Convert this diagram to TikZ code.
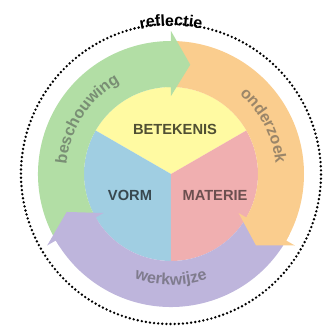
\documentclass[tikz,border=0pt]{standalone}
\usepackage{fontspec}
\setsansfont{Liberation Sans}
\usepackage{tikz}
\usepackage{xcolor}
\usetikzlibrary{decorations.text}

\definecolor{bandgreen}{RGB}{178,222,165}
\definecolor{bandorange}{RGB}{250,205,142}
\definecolor{bandpurple}{RGB}{190,181,220}
\definecolor{pieyellow}{RGB}{255,250,162}
\definecolor{pieblue}{RGB}{160,206,226}
\definecolor{piepink}{RGB}{240,175,176}
\colorlet{tgreen}{bandgreen!55!black!85}
\colorlet{torange}{bandorange!55!black!85}
\colorlet{tpurple}{bandpurple!55!black!85}

\tikzset{
    inlabel/.style={font=\sffamily\bfseries\fontsize{11}{13}\selectfont},
    dotline/.style={line width=2pt, dash pattern=on 0pt off 3.1pt, line cap=round}
}

\begin{document}
\begin{tikzpicture}[x=0.75pt, y=0.75pt]
    \useasboundingbox (-171,-155) rectangle (165,174);
    \fill[pieyellow] (0,0) -- (30:87) arc[start angle=30, end angle=150, radius=87] -- cycle;
    \fill[pieblue] (0,0) -- (150:87) arc[start angle=150, end angle=270, radius=87] -- cycle;
    \fill[piepink] (0,0) -- (270:87) arc[start angle=270, end angle=390, radius=87] -- cycle;
    \fill[bandgreen] (210:133) arc[start angle=210, end angle=90, radius=133] -- (90:87) arc[start angle=90, end angle=210, radius=87] -- cycle;
    \fill[bandorange] (90:133) arc[start angle=90, end angle=-30, radius=133] -- (-30:87) arc[start angle=-30, end angle=90, radius=87] -- cycle;
    \fill[bandpurple] (-30:133) arc[start angle=-30, end angle=-150, radius=133] -- (-150:87) arc[start angle=-150, end angle=-30, radius=87] -- cycle;
    \fill[bandgreen] (93:133) arc[start angle=93, end angle=90, radius=133] -- (90:143) -- (80:111) -- (90:78) -- (90:87) arc[start angle=90, end angle=93, radius=87] -- cycle;
    \fill[bandorange] (-27:133) arc[start angle=-27, end angle=-30, radius=133] -- (-30:143) -- (-40:111) -- (-30:78) -- (-30:87) arc[start angle=-30, end angle=-27, radius=87] -- cycle;
    \fill[bandpurple] (-147:133) arc[start angle=-147, end angle=-150, radius=133] -- (-150:143) -- (-160:111) -- (-150:78) -- (-150:87) arc[start angle=-150, end angle=-147, radius=87] -- cycle;
    \draw[dotline] (104:150) arc[start angle=104, end angle=-284, radius=150];

    \path[decorate, decoration={text along path, text align=center,
        text={|\sffamily\bfseries\fontsize{12}{14}\selectfont\color{tgreen}|beschouwing}}]
        (187:105) arc[start angle=187, end angle=107, radius=105];
    \path[decorate, decoration={text along path, text align=center,
        text={|\sffamily\bfseries\fontsize{12}{14}\selectfont\color{torange}|onderzoek}}]
        (67:105) arc[start angle=67, end angle=-12, radius=105];
    \path[decorate, decoration={text along path, text align=center,
        text={|\sffamily\bfseries\fontsize{12}{14}\selectfont\color{tpurple}|werkwijze}}]
        (228:111) arc[start angle=228, end angle=312, radius=111];
    \path[decorate, decoration={text along path, text align=center,
        text={|\sffamily\bfseries\fontsize{12}{14}\selectfont|reflectie}}]
        (120:148) arc[start angle=120, end angle=60, radius=148];
    \node[inlabel, text=black!55!pieyellow!70!black] (betekenis) at (4,45) {BETEKENIS};
    \node[inlabel, text=pieblue!35!black] (vorm) at (-41,-21) {VORM};
    \node[inlabel, text=piepink!45!black] (materie) at (44,-21) {MATERIE};
\end{tikzpicture}
\end{document}
